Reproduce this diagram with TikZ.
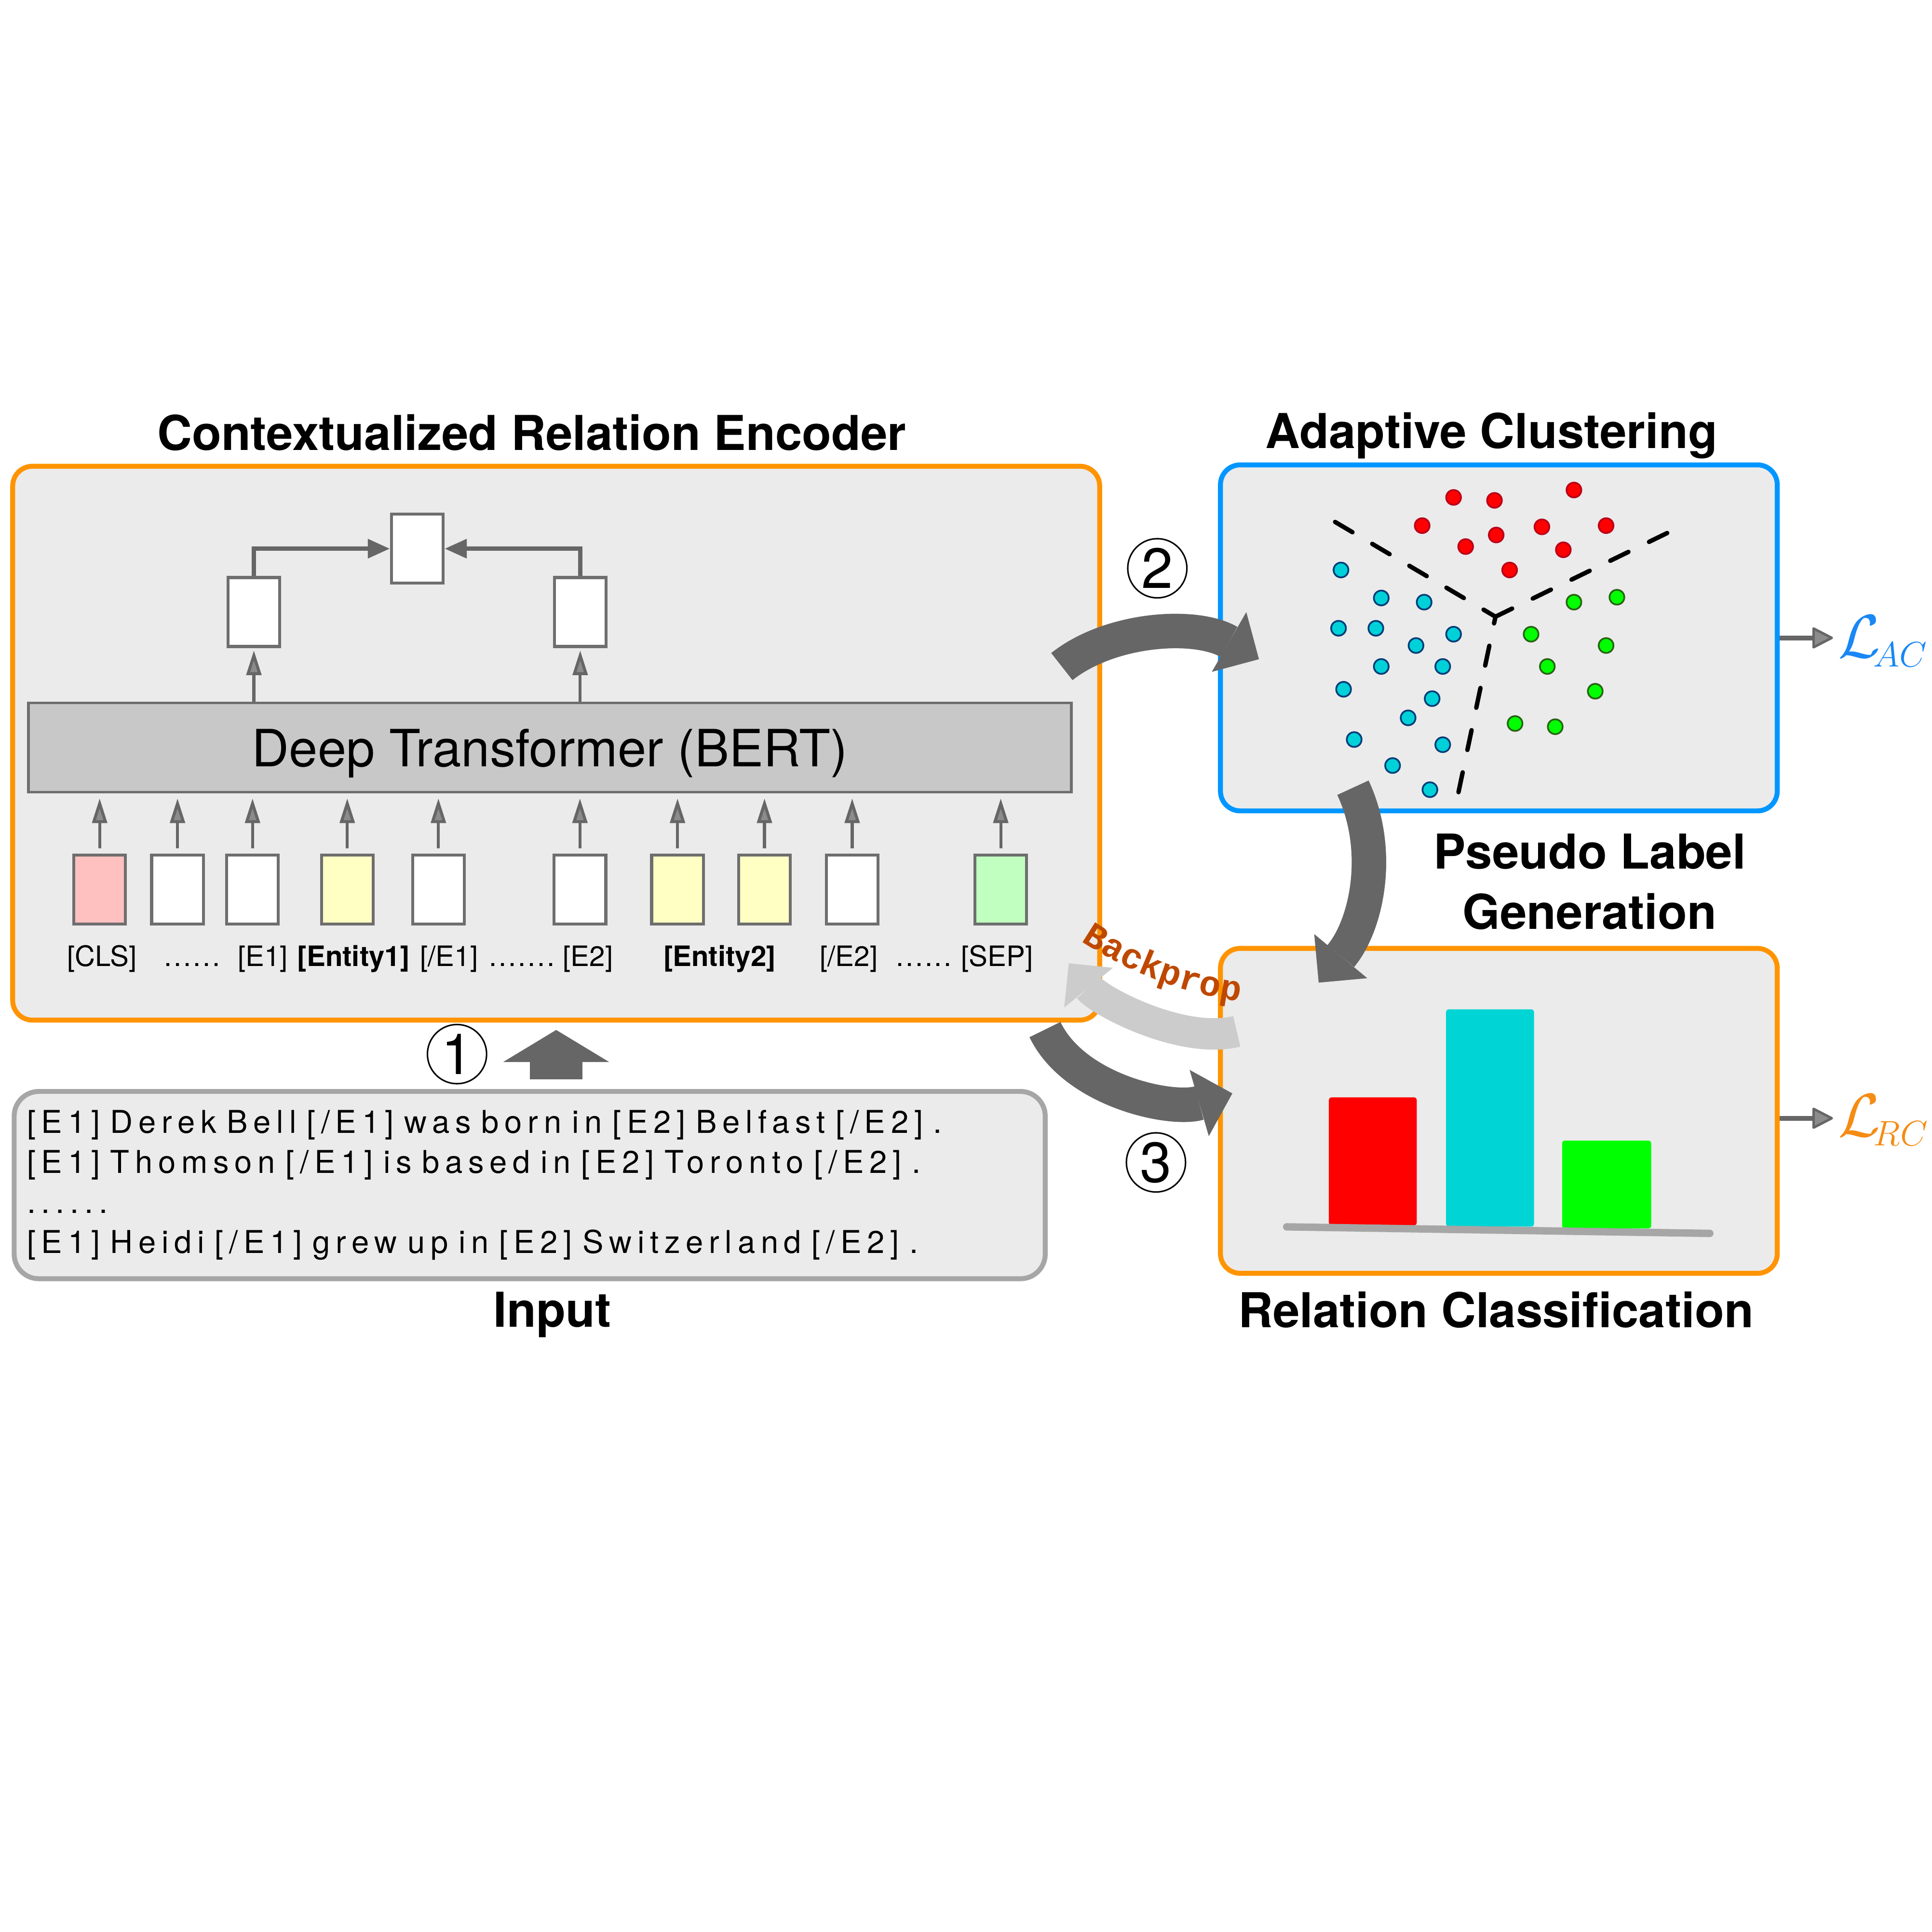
\documentclass[tikz,border=0pt]{standalone}
\usepackage{fontspec}
\setmainfont{TeX Gyre Heros}
\newfontfamily\monobold{Liberation Mono}
\newfontfamily\inputfont[LetterSpace=18]{TeX Gyre Heros}
\newcommand\inputstyle{\inputfont\fontsize{12.75}{16.3}\selectfont}
\newcommand\losssub[1]{\mbox{\fontsize{13.5}{13.5}\selectfont$#1$}}
\usepackage{tikz}
\usetikzlibrary{arrows.meta, positioning, calc, decorations.text}
\definecolor{encorange}{RGB}{255,148,0}
\definecolor{clustblue}{RGB}{0,150,255}
\definecolor{panelgray}{RGB}{235,235,235}
\definecolor{edgegray}{RGB}{110,110,110}
\definecolor{linegray}{RGB}{102,102,102}
\definecolor{headgray}{RGB}{140,140,140}
\definecolor{bertgray}{RGB}{200,200,200}
\definecolor{inputgray}{RGB}{166,166,166}
\definecolor{bpgray}{RGB}{204,204,204}
\definecolor{bpbrown}{RGB}{190,72,0}
\definecolor{tokpink}{RGB}{255,192,192}
\definecolor{tokyellow}{RGB}{255,255,196}
\definecolor{tokgreen}{RGB}{192,255,192}
\definecolor{barred}{RGB}{255,0,0}
\definecolor{barcyan}{RGB}{0,212,212}
\definecolor{bargreen}{RGB}{0,255,0}
\definecolor{lossblue}{RGB}{25,135,245}
\definecolor{lossorange}{RGB}{245,140,20}
\definecolor{reddraw}{RGB}{185,0,25}
\definecolor{cyanfill}{RGB}{0,208,215}
\definecolor{cyandraw}{RGB}{0,60,120}
\definecolor{greendraw}{RGB}{40,100,20}

\begin{document}
\begin{tikzpicture}[x=0.5pt, y=-0.5pt, >=Stealth,
    stagebox/.style={rectangle, fill=panelgray, line width=2pt, rounded corners=8pt, inner sep=0pt},
    vecbox/.style={rectangle, draw=edgegray, fill=white, line width=1.2pt, minimum width=21pt, minimum height=28pt, inner sep=0pt},
    heading/.style={font=\fontsize{19.5}{24.5}\selectfont\bfseries, inner sep=0pt},
    toklabel/.style={font=\fontsize{11.4}{11.4}\selectfont, inner sep=0pt, anchor=base},
    dotlabel/.style={toklabel, font=\fontsize{11.4}{11.4}\selectfont\addfontfeature{LetterSpace=6.4}},
    stepnum/.style={circle, draw=black, line width=0.6pt, minimum size=24pt, inner sep=0pt, font=\fontsize{23}{23}\selectfont},
    tokarrow/.style={draw=linegray, line width=1.2pt, -{Triangle[length=10pt, width=6pt, fill=headgray]}},
    mergearrow/.style={draw=linegray, line width=1.8pt, -{Triangle[length=9pt, width=7.5pt]}},
    flowarrow/.style={draw=linegray, line width=14pt, -{Triangle[length=14pt, width=28pt, line width=0pt]}},
    lossarrow/.style={draw=linegray, line width=2pt, shorten >=2pt, -{Triangle[round, length=9pt, width=9pt, fill=headgray, line width=1pt]}},
    losslabel/.style={anchor=base west, inner sep=0pt, font=\fontsize{25}{25}\selectfont},
    divider/.style={line width=1.8pt, line cap=round, dash pattern=on 8.2pt off 9.3pt}]

    \useasboundingbox (0,0) rectangle (1568,1568);

    % Stages
    \node[stagebox, draw=encorange, minimum width=441.2pt, minimum height=224.75pt] (enc) at (451.5,603.15) {};
    \node[stagebox, draw=clustblue, minimum width=226pt, minimum height=140.4pt] (clust) at (1216.75,517.7) {};
    \node[stagebox, draw=encorange, minimum width=226pt, minimum height=131.85pt] (rc) at (1216.75,901.55) {};
    \node[stagebox, draw=inputgray, rounded corners=10pt, minimum width=418.5pt, minimum height=76pt, text width=408pt, align=left,
        font=\inputstyle] (inbox) at (430,961.8)
        {[E1] Derek Bell [/E1] was born in [E2] Belfast [/E2] .\\{}[E1] Thomson [/E1] is based in [E2] Toronto [/E2] .\\{}......\\{}[E1] Heidi [/E1] grew up in [E2] Switzerland [/E2] .};

    % Titles
    \node[heading, anchor=base] (enctitle) at (431.7,365.5) {Contextualized Relation Encoder};
    \node[heading, anchor=base] (clusttitle) at (1210.8,364) {Adaptive Clustering};
    \node[heading, anchor=north, align=center] (pseudotitle) at (1290.5,676.4) {Pseudo Label\\Generation};
    \node[heading, anchor=base] (rctitle) at (1214.4,1077.3) {Relation Classification};
    \node[heading, anchor=base] (intitle) at (448.4,1077) {Input};

    % Encoder
    \node[rectangle, draw=edgegray, fill=bertgray, line width=1.1pt, minimum width=423.4pt, minimum height=36.2pt, inner sep=0pt,
        text depth=0pt, font=\fontsize{20.85}{20.85}\selectfont] (bert) at (446.4,606.7) {Deep Transformer (BERT)};
    \node[vecbox] (vleft) at (206.1,496.7) {};
    \node[vecbox] (vright) at (471,496.7) {};
    \node[vecbox] (vtop) at (338.75,445.3) {};

    \node[vecbox, fill=tokpink] (tcls) at (80.9,721.85) {};
    \node[vecbox] (tdots) at (144.1,721.85) {};
    \node[vecbox] (te1) at (205,721.85) {};
    \node[vecbox, fill=tokyellow] (tent1) at (281.9,721.85) {};
    \node[vecbox] (tee1) at (355.9,721.85) {};
    \node[vecbox] (te2) at (470.8,721.85) {};
    \node[vecbox, fill=tokyellow] (tent2a) at (550,721.85) {};
    \node[vecbox, fill=tokyellow] (tent2b) at (620.6,721.85) {};
    \node[vecbox] (tee2) at (691.8,721.85) {};
    \node[vecbox, fill=tokgreen] (tsep) at (812.4,721.85) {};

    \node[toklabel] (lcls) at (82.7,784) {[CLS]};
    \node[dotlabel] (ldotsa) at (156,784) {......};
    \node[toklabel] (le1) at (213.3,784) {[E1]};
    \node[toklabel, font=\fontsize{11.4}{11.4}\selectfont\bfseries] (lent1) at (287,784) {[Entity1]};
    \node[toklabel] (lee1) at (364.6,784) {[/E1]};
    \node[dotlabel] (ldotsb) at (423.7,784) {.......};
    \node[toklabel] (le2) at (477.3,784) {[E2]};
    \node[toklabel, font=\fontsize{11.4}{11.4}\selectfont\bfseries] (lent2) at (584.2,784) {[Entity2]};
    \node[toklabel] (lee2) at (689,784) {[/E2]};
    \node[dotlabel] (ldotsc) at (750,784) {......};
    \node[toklabel] (lsep) at (809.5,784) {[SEP]};

    \foreach \tok in {tcls,tdots,te1,tent1,tee1,te2,tent2a,tent2b,tee2,tsep}
        \draw[tokarrow] ([yshift=2pt]\tok.north) -- ([yshift=-2pt]\tok.north |- bert.south);
    \draw[tokarrow] (vleft.south |- bert.north) -- ([yshift=-1pt]vleft.south);
    \draw[tokarrow] (vright.south |- bert.north) -- ([yshift=-1pt]vright.south);
    \draw[mergearrow] (vleft.north) |- (vtop.west);
    \draw[mergearrow] (vright.north) |- (vtop.east);

    % Clusters
    \coordinate (yc) at (1214,500.5);
    \coordinate (dl) at (1083.8,423.6);
    \coordinate (dr) at (1353.4,432.6);
    \coordinate (db) at (1184,642.9);
    \draw[divider] (dl) -- (yc);
    \draw[divider] (dr) -- (yc);
    \draw[divider] (db) -- (yc);
    \foreach \px/\py in {1180/403.7, 1213.2/406.1, 1277.7/397.7, 1154.5/426.6, 1214.6/434.2, 1251.7/427.6, 1303.8/426.6, 1189.8/443.6, 1269.1/446.2, 1225.5/462.6}
        \filldraw[fill=barred, draw=reddraw, line width=0.7pt] (\px,\py) circle[radius=3pt];
    \foreach \px/\py in {1088.6/462.6, 1121.3/485.3, 1156.1/488.7, 1086.6/509.9, 1116.9/509.9, 1180/514.7, 1149.5/523.9, 1121.3/540.9, 1171.2/540.9, 1090.7/559.4, 1162.6/567, 1143.1/582.6, 1099.3/600.2, 1171.2/604.4, 1130.5/621.3, 1160.8/640.9}
        \filldraw[fill=cyanfill, draw=cyandraw, line width=0.7pt] (\px,\py) circle[radius=3pt];
    \foreach \px/\py in {1277.7/488.7, 1312.6/484.7, 1242.9/514.7, 1303.8/523.9, 1256.1/540.9, 1295/561, 1229.9/587.2, 1262.5/589.8}
        \filldraw[fill=bargreen, draw=greendraw, line width=0.7pt] (\px,\py) circle[radius=3pt];

    % Classifier bars
    \fill[barred, rounded corners=1pt] (1078.8,890.6) rectangle (1150.1,994.5);
    \fill[barcyan, rounded corners=1pt] (1173.9,819.2) rectangle (1245.3,995.5);
    \fill[bargreen, rounded corners=1pt] (1268.1,925.7) rectangle (1340.4,997);
    \draw[inputgray, line width=3pt, line cap=round] (1044.5,995.7) -- (1388,1001);

    % Losses
    \node[losslabel, text=lossblue] (lac) at (1492,533.6) {$\mathcal{L}_{\!\losssub{AC}}$};
    \node[losslabel, text=lossorange] (lrc) at (1492,922.4) {$\mathcal{L}_{\!\losssub{RC}}$};
    \draw[lossarrow] (clust.east) -- (clust.east -| lac.west);
    \draw[lossarrow] ([yshift=-3pt]rc.east) -- ([yshift=-3pt]rc.east -| lrc.west);

    % Steps
    \node[stepnum] (step1) at (371,855.5) {1};
    \node[stepnum] (step2) at (939.5,461.2) {2};
    \node[stepnum] (step3) at (938.4,943.4) {3};

    % Flow
    \coordinate (a2tail) at (862,541);
    \coordinate (a2tip) at (1022,535);
    \coordinate (pltail) at (1098.3,639.3);
    \coordinate (pltip) at (1070.5,797.5);
    \coordinate (a3tail) at (848.3,835.6);
    \coordinate (a3tip) at (1000.4,887.4);
    \coordinate (bptail) at (1004,837);
    \coordinate (bptip) at (867.6,781.8);
    \draw[draw=linegray, line width=21.5pt, -{Triangle[length=13pt, width=43pt, line width=0pt]}, shorten <=3.9pt, shorten >=3pt]
        (enc.south |- inbox.north) -- (enc.south);
    \draw[flowarrow] (a2tail) .. controls +(39,-31) and +(-52,-30) .. (a2tip);
    \draw[flowarrow] (pltail) .. controls +(23.7,50.7) and +(39.5,-47.5) .. (pltip);
    \draw[flowarrow] (a3tail) .. controls +(23.7,49.4) and +(-50.4,14.6) .. (a3tip);
    \draw[flowarrow, draw=bpgray, line width=12.75pt, -{Triangle[length=12.75pt, width=25.5pt, line width=0pt]}]
        (bptail) .. controls +(-44,11) and +(25.4,31.2) .. (bptip);
    \path[decorate, decoration={text along path, text align=center, text color=bpbrown,
        text={|\monobold\bfseries\fontsize{14.5}{14.5}\selectfont|Backprop}}]
        (860.9,752.4) -- (877.5,763.6) .. controls (915.6,789.3) and (960.8,806.6) .. (1006.4,813) -- (1026.2,815.8);
\end{tikzpicture}
\end{document}
